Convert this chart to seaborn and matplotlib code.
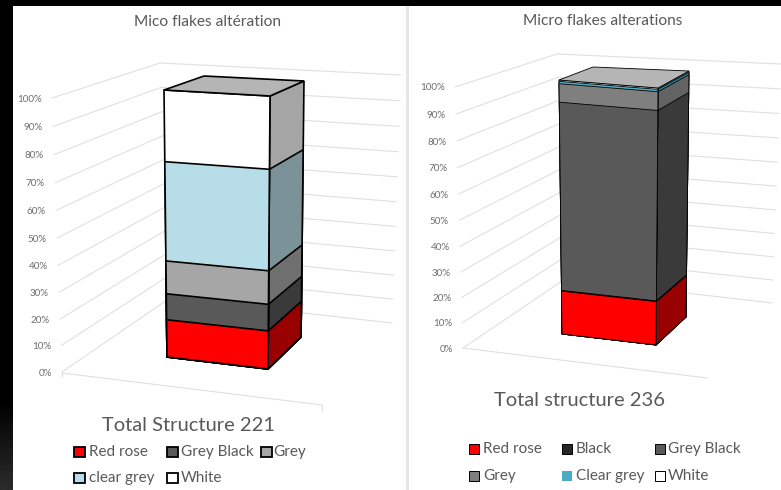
import numpy as np
import seaborn as sns
import matplotlib.pyplot as plt
from matplotlib.patches import Rectangle
from matplotlib.transforms import Transform

# Values (percent of each stacked bar)
pct_ticks = [0, 10, 20, 30, 40, 50, 60, 70, 80, 90, 100]

left_segments = ['Red rose', 'Grey Black', 'Grey', 'clear grey', 'White']
left_values = [14.5, 10, 12.5, 37, 26]
left_front = ['#ff0000', '#595959', '#a6a6a6', '#b7dde8', '#ffffff']
left_side = ['#990000', '#3a3a3a', '#6f6f6f', '#7a9298', '#a5a5a5']

right_segments = ['Red rose', 'Black', 'Grey Black', 'Grey', 'Clear grey', 'White']
right_values = [17.5, 0.3, 73.8, 7.0, 0.9, 0.5]
right_front = ['#ff0000', '#262626', '#595959', '#7f7f7f', '#4bacc6', '#ffffff']
right_side = ['#990000', '#1a1a1a', '#3a3a3a', '#636363', '#2f8ea8', '#a5a5a5']

TEXT = '#595959'
GRID = '#e0e0e0'
CURVE = 0.044  # the fake 3D spreads the upper ticks a bit more


class FaceProjection(Transform):
    """Maps (u, percent) on to a four cornered face given in pixels."""
    input_dims = 2
    output_dims = 2
    is_separable = False
    has_inverse = False

    def __init__(self, bottom_a, bottom_b, top_a, top_b, u0=0.0):
        super().__init__()
        self.corners = np.array([bottom_a, bottom_b, top_a, top_b], dtype=float)
        self.u0 = u0

    def transform_non_affine(self, values):
        values = np.asarray(values, dtype=float)
        u = (values[:, 0] + self.u0)[:, None]
        p = values[:, 1] / 100
        t = (p - CURVE * p * (1 - p))[:, None]
        bottom = self.corners[0] * (1 - u) + self.corners[1] * u
        top = self.corners[2] * (1 - u) + self.corners[3] * u
        return bottom * (1 - t) + top * t


def draw_stack(ax, values, colors, face, lw):
    # biggest cumulative first, the smaller ones cover it
    tops = np.cumsum(values)
    tops[-1] = 100
    for top, color in reversed(list(zip(tops, colors))):
        sns.barplot(x=[0], y=[top], color=color, saturation=1, width=1, errorbar=None,
                    edgecolor='black', linewidth=lw, ax=ax, zorder=3)
        bar = ax.patches[-1]
        bar.set_transform(face + ax.transData)
        bar.set_clip_on(False)


def draw_panel(ax, geo, values, front, side, lw):
    left_wall = FaceProjection(*geo['left_wall'])
    right_wall = FaceProjection(*geo['right_wall'])
    for pct in pct_ticks:
        ax.plot([0, 1], [pct, pct], color=GRID, lw=0.8, zorder=1,
                transform=left_wall + ax.transData)
        ax.plot([0, 1], [pct, pct], color=GRID, lw=0.8, zorder=1,
                transform=right_wall + ax.transData)
        x, y = left_wall.transform(np.array([[0, pct]], dtype=float))[0]
        ax.text(x - 10, y + 1, f'{pct}%', ha='right', va='center', color='#6e6e6e', fontsize=7.1)

    ax.plot(*zip(*geo['floor']), color=GRID, lw=0.8, zorder=1)

    fl0, fr0, br0 = geo['bottom']
    fl1, fr1, br1, bl1 = geo['top']
    # u runs from -0.5 to 0.5 on a barplot with width 1
    draw_stack(ax, values, side, FaceProjection(fr0, br0, fr1, br1, u0=0.5), lw)
    draw_stack(ax, values, front, FaceProjection(fl0, fr0, fl1, fr1, u0=0.5), lw)
    ax.fill(*zip(fl1, fr1, br1, bl1), facecolor='#b5b5b5', edgecolor='black', lw=lw, zorder=4)


def draw_legend(ax, entries, colors, xs, text_xs, ys, size, edge_lw):
    for i, (name, color) in enumerate(zip(entries, colors)):
        col = i % len(xs)
        row = i // len(xs)
        edge = 'none' if color == '#4bacc6' else 'black'
        ax.add_patch(Rectangle((xs[col], ys[row] - size / 2), size, size, facecolor=color,
                               edgecolor=edge, lw=edge_lw, zorder=5))
        ax.text(text_xs[col], ys[row], name, va='center', color=TEXT, fontsize=11)


sns.set_theme(style='white')
plt.rcParams['font.family'] = ['Lato', 'DejaVu Sans']

fig = plt.figure(figsize=(7.81, 4.9), dpi=100, facecolor='black')
ax = fig.add_axes([0, 0, 1, 1])
ax.set_facecolor('black')

# white sheets behind the two charts
ax.add_patch(Rectangle((13, 6), 393, 484, facecolor='white', edgecolor='none', zorder=0))
ax.add_patch(Rectangle((409, 6), 372, 484, facecolor='white', edgecolor='none', zorder=0))
ax.add_patch(Rectangle((406, 6), 3, 484, facecolor='#e6e6e6', edgecolor='none', zorder=0))
ax.imshow(np.linspace(0, 0.17, 90)[:, None], cmap='gray', vmin=0, vmax=1, aspect='auto',
          extent=(0, 13, 490, 400), zorder=0)

left_geo = {
    'left_wall': ((62, 372), (170, 298), (52, 98), (160, 63)),
    'right_wall': ((170, 298), (392, 323), (160, 63), (401, 75)),
    'floor': ((62, 373), (322, 405)),
    'bottom': ((167, 357), (268, 369), (301, 337)),
    'top': ((164, 90), (270, 96), (304, 81), (204, 76)),
}
right_geo = {
    'left_wall': ((463, 348), (565, 279), (455, 87), (557, 54)),
    'right_wall': ((565, 279), (772, 303), (557, 54), (781, 64)),
    'floor': ((463, 348), (707, 378)),
    'bottom': ((562, 334), (656, 345), (686, 317)),
    'top': ((559, 80), (658, 88), (689, 71), (593, 67)),
}

draw_panel(ax, left_geo, left_values, left_front, left_side, 1.2)
draw_panel(ax, right_geo, right_values, right_front, right_side, 0.6)

# little end ticks of the left floor line
ax.plot([62, 62], [372, 377], color=GRID, lw=0.8, zorder=1)
ax.plot([322, 322], [405, 411], color=GRID, lw=0.8, zorder=1)

ax.text(208, 22, 'Mico flakes altération', ha='center', va='center', color=TEXT, fontsize=11.2)
ax.text(603, 21, 'Micro flakes alterations', ha='center', va='center', color=TEXT, fontsize=11.2)
ax.text(188, 425, 'Total Structure 221', ha='center', va='center', color=TEXT, fontsize=14.5)
ax.text(580, 400, 'Total structure 236', ha='center', va='center', color=TEXT, fontsize=14.5)

draw_legend(ax, left_segments, left_front, [74, 167, 261], [89, 181, 273], [452, 478], 10.5, 1.3)
draw_legend(ax, right_segments, right_front, [469, 562, 655], [483, 576, 668], [449, 476], 10, 0.7)

ax.set_xlim(0, 781)
ax.set_ylim(490, 0)
ax.set_xticks([])
ax.set_yticks([])
ax.set_xlabel('')
ax.set_ylabel('')
for spine in ax.spines.values():
    spine.set_visible(False)

fig.savefig('out.png', dpi=100, facecolor='black')
plt.close()
